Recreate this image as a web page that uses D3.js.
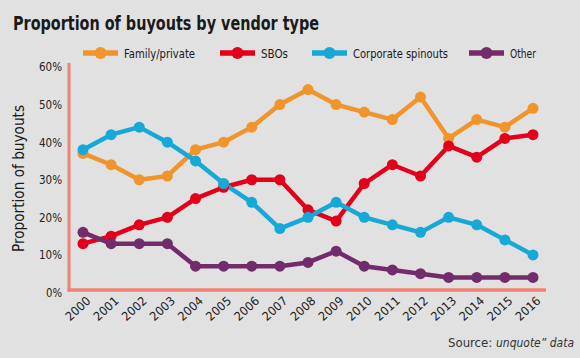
<!DOCTYPE html>
<html><head><meta charset="utf-8">
<script src="https://cdn.jsdelivr.net/npm/d3@7"></script>
<style>
html,body{margin:0;padding:0;background:#e1e1e1;}
svg{display:block;}
text{font-family:"DejaVu Sans Condensed","DejaVu Sans",sans-serif;}
</style></head>
<body>
<script>
const years = ["2000","2001","2002","2003","2004","2005","2006","2007","2008","2009","2010","2011","2012","2013","2014","2015","2016"];
const familyPrivate = [37,34,30,31,38,40,44,50,54,50,48,46,52,41,46,44,49];
const sbos = [13,15,18,20,25,28,30,30,22,19,29,34,31,39,36,41,42];
const corporateSpinouts = [38,42,44,40,35,29,24,17,20,24,20,18,16,20,18,14,10];
const other = [16,13,13,13,7,7,7,7,8,11,7,6,5,4,4,4,4];
const yTicks = [0,10,20,30,40,50,60];
const seriesNames = ["Family/private","SBOs","Corporate spinouts","Other"];
const seriesColors = ["#f0952c","#e2001a","#16a9d8","#722c6b"];
const seriesData = [familyPrivate, sbos, corporateSpinouts, other];

const W = 580, H = 358;
const svg = d3.select("body").append("svg").attr("width", W).attr("height", H);
svg.append("rect").attr("width", W).attr("height", H).attr("fill", "#e1e1e1");

const x = d3.scalePoint().domain(years).range([83, 533]);
const y = d3.scaleLinear().domain([0, 60]).range([292.5, 67]);

function fit(sel, len) {
  sel.attr("textLength", len).attr("lengthAdjust", "spacingAndGlyphs");
}

// title
svg.append("text").attr("x", 13).attr("y", 29.5)
  .attr("font-size", 20).attr("font-weight", "bold").attr("fill", "#1a1a1a")
  .text("Proportion of buyouts by vendor type").call(fit, 306);

// legend
const legendX = [83, 220, 312, 469];
const legendLen = [71, 27, 95, 26];
seriesNames.forEach((n, i) => {
  const g = svg.append("g").attr("transform", `translate(${legendX[i]},53)`);
  g.append("line").attr("x1", 0).attr("x2", 35).attr("y1", 0).attr("y2", 0)
    .attr("stroke", seriesColors[i]).attr("stroke-width", 5.5);
  g.append("circle").attr("cx", 17.5).attr("cy", 0).attr("r", 6).attr("fill", seriesColors[i]);
  g.append("text").attr("x", 41).attr("y", 4.5).attr("font-size", 12.5).attr("fill", "#1a1a1a")
    .text(n).call(fit, legendLen[i]);
});

// axes lines (salmon)
svg.append("line").attr("x1", 69).attr("x2", 69).attr("y1", 63).attr("y2", y(0) - 1)
  .attr("stroke", "#ef8270").attr("stroke-width", 3);
svg.append("line").attr("x1", 67.5).attr("x2", 546).attr("y1", y(0) - 2.5).attr("y2", y(0) - 2.5)
  .attr("stroke", "#ef8270").attr("stroke-width", 3.5);

// y tick labels
const yAxis = d3.axisLeft(y).tickValues(yTicks).tickFormat(d => d + "%").tickSize(0).tickPadding(0);
const yg = svg.append("g").attr("transform", "translate(62,0)").call(yAxis);
yg.select(".domain").remove();
yg.selectAll("text").attr("font-size", 12).attr("fill", "#222")
  .style("font-family", '"DejaVu Sans Condensed",sans-serif')
  .each(function(d) { d3.select(this).call(fit, d === 0 ? 16 : 23); });

// x tick labels
const xAxis = d3.axisBottom(x).tickSize(0).tickPadding(0);
const xg = svg.append("g").attr("transform", "translate(0,298)").call(xAxis);
xg.select(".domain").remove();
xg.selectAll("text").attr("font-size", 12).attr("fill", "#222")
  .attr("text-anchor", "end").attr("dy", 0).attr("y", 0)
  .attr("transform", "translate(8,4) rotate(-42)")
  .style("font-family", '"DejaVu Sans Condensed",sans-serif')
  .call(fit, 29);

// y title
svg.append("text").attr("transform", "translate(24,178.5) rotate(-90)")
  .attr("text-anchor", "middle").attr("font-size", 15.5).attr("fill", "#1a1a1a")
  .text("Proportion of buyouts").call(fit, 147);

// lines
const line = d3.line().x((d, i) => x(years[i])).y(d => y(d));
seriesData.forEach((vals, i) => {
  svg.append("path").datum(vals).attr("d", line).attr("fill", "none")
    .attr("stroke", seriesColors[i]).attr("stroke-width", 4.5).attr("stroke-linejoin", "round");
});
seriesData.forEach((vals, i) => {
  svg.append("g").selectAll("circle").data(vals).join("circle")
    .attr("cx", (d, j) => x(years[j])).attr("cy", d => y(d)).attr("r", 5.5)
    .attr("fill", seriesColors[i]);
});

// source
const src = svg.append("text").attr("x", 574).attr("y", 346.5).attr("text-anchor", "end")
  .attr("font-size", 13).attr("fill", "#333");
src.append("tspan").text("Source: ").call(fit, 48);
src.append("tspan").attr("font-style", "italic").text("unquote\u201d data").call(fit, 78);
</script>
</body></html>
